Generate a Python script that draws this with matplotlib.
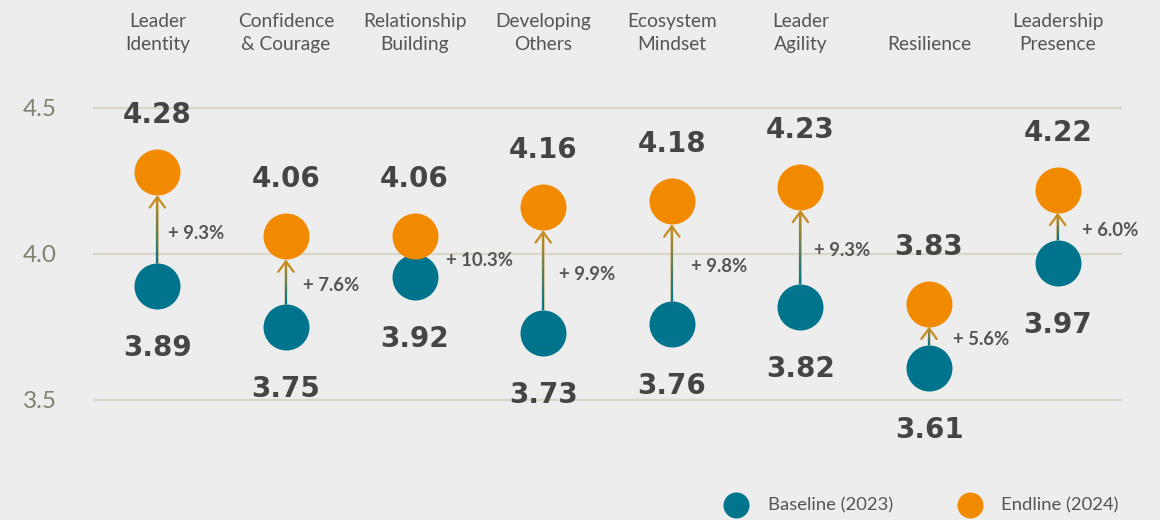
import matplotlib
matplotlib.use("Agg")
import matplotlib.pyplot as plt
import numpy as np
from matplotlib.collections import LineCollection
from matplotlib.lines import Line2D

categories = ["Leader\nIdentity", "Confidence\n& Courage", "Relationship\nBuilding",
              "Developing\nOthers", "Ecosystem\nMindset", "Leader\nAgility",
              "Resilience", "Leadership\nPresence"]
baseline = [3.89, 3.75, 3.92, 3.73, 3.76, 3.82, 3.61, 3.97]
endline = [4.28, 4.06, 4.06, 4.16, 4.18, 4.23, 3.83, 4.22]
pct_labels = ["+ 9.3%", "+ 7.6%", "+ 10.3%", "+ 9.9%", "+ 9.8%", "+ 9.3%", "+ 5.6%", "+ 6.0%"]
yticks = [3.5, 4.0, 4.5]
ytick_labels = ["3.5", "4.0", "4.5"]
legend_labels = ["Baseline (2023)", "Endline (2024)"]

# layout (pixel offsets of the change labels from the arrow)
pct_dx_px = [11, 17, 31, 16, 19, 14, 24, 24]

BG = "#ededed"
TEAL = "#00748c"
ORANGE = "#f28a00"
OCHRE = "#c48c1e"
GRID = "#d9d5c8"
DARK = "#454545"
MID = "#555555"

W, H = 1160, 520
fig = plt.figure(figsize=(W / 100, H / 100), dpi=100, facecolor=BG)
ax = fig.add_axes([93 / W, 0, 1029 / W, 1])
ax.set_facecolor(BG)
ppu = 292.0  # pixels per unit
ax.set_xlim(-0.5, 7.5)
ax.set_ylim(3.5 - 120 / ppu, 4.5 + 108 / ppu)
for s in ax.spines.values():
    s.set_visible(False)
ax.set_xticks([])
ax.set_yticks(yticks)
ax.set_yticklabels(ytick_labels, fontsize=17.5, color="#82806f", family="Lato")
ax.tick_params(axis="y", length=0, pad=26)
for y in yticks:
    ax.axhline(y, color=GRID, lw=1.6, zorder=0)

px2pt = 0.72
r = 23 / ppu
x = np.arange(len(categories))

for i in range(len(categories)):
    b, e = baseline[i], endline[i]
    ax.annotate("", xy=(i, e - r), xytext=(i, b + r),
                arrowprops=dict(arrowstyle="->,head_length=0.75,head_width=0.55",
                                color=OCHRE, lw=1.6, shrinkA=0, shrinkB=0),
                zorder=2)
    n = 40
    ys = np.linspace(b + r, e - r - 2 / ppu, n + 1)
    segs = [[(i, ys[k]), (i, ys[k + 1])] for k in range(n)]
    c0 = np.array(matplotlib.colors.to_rgb(TEAL))
    c1 = np.array(matplotlib.colors.to_rgb(OCHRE))
    cols = [c0 + (c1 - c0) * (k / (n - 1)) for k in range(n)]
    lc = LineCollection(segs, colors=cols, linewidths=1.6, zorder=2.5, capstyle="butt")
    ax.add_collection(lc)

ax.scatter(x, baseline, s=(46 * px2pt) ** 2, color=TEAL, zorder=3, linewidths=0)
ax.scatter(x, endline, s=(46 * px2pt) ** 2, color=ORANGE, zorder=3, linewidths=0)

for i in range(len(categories)):
    b, e = baseline[i], endline[i]
    ax.annotate(f"{e:.2f}", (i, e), xytext=(0, 57 * px2pt), textcoords="offset points",
                ha="center", va="center", fontsize=20, fontweight="bold",
                color=DARK, family="DejaVu Sans", zorder=4)
    ax.annotate(f"{b:.2f}", (i, b), xytext=(0, -62 * px2pt), textcoords="offset points",
                ha="center", va="center", fontsize=20, fontweight="bold",
                color=DARK, family="DejaVu Sans", zorder=4)
    ax.annotate(pct_labels[i], (i, (b + e) / 2), xytext=(pct_dx_px[i] * px2pt, -4 * px2pt),
                textcoords="offset points", ha="left", va="center", fontsize=13.3,
                fontweight="bold", color=MID, family="Lato", zorder=4)
    ax.text(i, 4.5 + (108 - 50) / ppu, categories[i], ha="center", va="baseline",
            fontsize=13.8, color="#555555", family="Lato", linespacing=1.4,
            multialignment="center")

# legend
leg_y = 1 - 505 / H
for cx, tx, col, lab in [(736, 768, TEAL, legend_labels[0]), (970, 1001, ORANGE, legend_labels[1])]:
    fig.add_artist(Line2D([cx / W], [leg_y], marker="o", markersize=26 * px2pt,
                          color=col, markeredgewidth=0, linestyle="none",
                          transform=fig.transFigure))
    fig.text(tx / W, leg_y, lab, ha="left", va="center", fontsize=13.3,
             color="#555555", family="Lato")

fig.savefig("out.png", dpi=100, facecolor=BG)
